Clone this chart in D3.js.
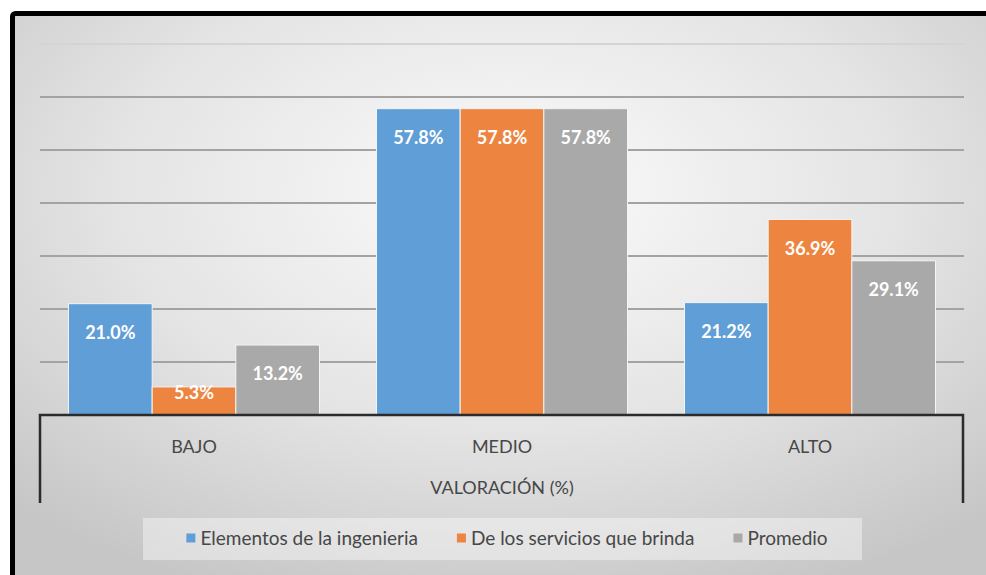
<!DOCTYPE html>
<html>
<head>
<meta charset="utf-8">
<script src="https://cdn.jsdelivr.net/npm/d3@7"></script>
<style>
  body { margin: 0; background: #fff; }
  svg { display: block; font-family: Lato, "Open Sans", sans-serif; }
</style>
</head>
<body>
<svg width="986" height="575"></svg>
<script>
// data
const categories = ["BAJO", "MEDIO", "ALTO"];
const series = ["Elementos de la ingenieria", "De los servicios que brinda", "Promedio"];
const elementos = [21.0, 57.8, 21.2];
const servicios = [5.3, 57.8, 36.9];
const promedio = [13.2, 57.8, 29.1];
const yTicks = [0, 10, 20, 30, 40, 50, 60, 70];
const colors = ["#5f9ed7", "#ed8540", "#a9a9a9"];

const values = [elementos, servicios, promedio];
const rows = [];
categories.forEach((c, i) => {
    series.forEach((s, j) => rows.push({cat: c, ser: s, val: values[j][i], k: j}));
});

const svg = d3.select("svg");

// background + frame
const defs = svg.append("defs");
const grad = defs.append("radialGradient")
    .attr("id", "bg")
    .attr("cx", "50%").attr("cy", "30%").attr("r", "72%");
grad.append("stop").attr("offset", "0%").attr("stop-color", "#fbfbfb");
grad.append("stop").attr("offset", "55%").attr("stop-color", "#e4e4e4");
grad.append("stop").attr("offset", "100%").attr("stop-color", "#c6c6c6");

svg.append("rect")
    .attr("x", 12.5).attr("y", 13.5)
    .attr("width", 990).attr("height", 600)
    .attr("rx", 3)
    .attr("fill", "url(#bg)")
    .attr("stroke", "#000")
    .attr("stroke-width", 5);

// scales
const x0 = d3.scaleBand()
    .domain(categories)
    .range([40, 964])
    .paddingInner(0.185)
    .paddingOuter(0.0925);

const x1 = d3.scaleBand()
    .domain(series)
    .range([0, x0.bandwidth()]);

const y = d3.scaleLinear()
    .domain([0, 70])
    .range([415, 44]);

// gridlines
svg.append("g")
    .selectAll("line")
    .data(yTicks.filter(t => t > 0))
    .enter().append("line")
    .attr("x1", 40).attr("x2", 964)
    .attr("y1", d => y(d)).attr("y2", d => y(d))
    .attr("stroke", d => d === 70 ? "#d4d4d4" : "#a3a3a3")
    .attr("stroke-width", 2);

// bars
svg.append("g")
    .selectAll("rect")
    .data(rows)
    .enter().append("rect")
    .attr("x", d => x0(d.cat) + x1(d.ser))
    .attr("y", d => y(d.val))
    .attr("width", x1.bandwidth())
    .attr("height", d => y(0) - y(d.val))
    .attr("fill", d => colors[d.k])
    .attr("stroke", "#f4f4f4")
    .attr("stroke-width", 1);

// labels inside bars
svg.append("g")
    .selectAll("text")
    .data(rows)
    .enter().append("text")
    .attr("x", d => x0(d.cat) + x1(d.ser) + x1.bandwidth() / 2)
    .attr("y", d => Math.min(y(d.val) + 29, y(0) - 22))
    .attr("dy", "0.35em")
    .attr("text-anchor", "middle")
    .style("fill", "#fff")
    .style("font-size", "18px")
    .style("font-weight", "bold")
    .text(d => d.val.toFixed(1) + "%");

// category axis box
svg.append("path")
    .attr("d", `M40,503V${y(0)}H963V503`)
    .attr("fill", "none")
    .attr("stroke", "#2b2b2b")
    .attr("stroke-width", 2.5);

svg.append("g")
    .selectAll("text")
    .data(categories)
    .enter().append("text")
    .attr("x", d => x0(d) + x0.bandwidth() / 2)
    .attr("y", 447)
    .attr("dy", "0.35em")
    .attr("text-anchor", "middle")
    .style("fill", "#474747")
    .style("font-size", "18px")
    .text(d => d);

svg.append("text")
    .attr("x", 502)
    .attr("y", 488)
    .attr("dy", "0.35em")
    .attr("text-anchor", "middle")
    .style("fill", "#474747")
    .style("font-size", "18px")
    .text("VALORACIÓN (%)");

// legend
svg.append("rect")
    .attr("x", 143).attr("y", 518)
    .attr("width", 719).attr("height", 42)
    .attr("fill", "#fff").attr("fill-opacity", 0.4);

const items = svg.append("g")
    .selectAll("g")
    .data(series)
    .enter().append("g");
items.append("rect")
    .attr("width", 9).attr("height", 9)
    .attr("y", -4.5)
    .attr("fill", (d, i) => colors[i]);
items.append("text")
    .attr("x", 14)
    .attr("dy", "0.35em")
    .style("fill", "#474747")
    .style("font-size", "19px")
    .text(d => d);

let off = 0;
const pos = [];
items.each(function() {
    pos.push(off);
    off += this.getBBox().width + 39;
});
const start = 507 - (off - 39) / 2;
items.attr("transform", (d, i) => `translate(${start + pos[i]},538)`);
</script>
</body>
</html>
